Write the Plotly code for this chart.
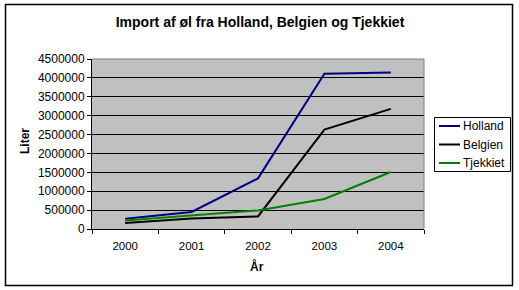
import plotly.graph_objects as go

years = ["2000", "2001", "2002", "2003", "2004"]
holland = [272000, 450000, 1340000, 4110000, 4145000]
belgien = [160000, 280000, 333000, 2630000, 3180000]
tjekkiet = [228000, 360000, 492000, 794000, 1510000]
y_ticks = list(range(0, 4500001, 500000))

series = [("Holland", holland, "#000080"),
          ("Belgien", belgien, "#000000"),
          ("Tjekkiet", tjekkiet, "#008000")]

W, H = 519, 290
L, R, T, B = 92, 424, 59, 229  # plot area in pixels

def px(x):
    return (x - L) / (R - L)

def py(y):
    return (B - y) / (B - T)

FONT = "Liberation Sans, Arial, sans-serif"

fig = go.Figure()
for name, vals, col in series:
    fig.add_trace(go.Scatter(x=years, y=vals, name=name, mode="lines",
                             line=dict(color=col, width=2), showlegend=False))

fig.update_layout(
    width=W, height=H,
    margin=dict(l=L, r=W - R, t=T, b=H - B, pad=0),
    paper_bgcolor="white",
    plot_bgcolor="#C0C0C0",
    font=dict(family=FONT, color="black", size=12),
    title=dict(text="<b>Import af øl fra Holland, Belgien og Tjekkiet</b>",
               x=260 / W, xanchor="center", xref="container",
               y=1 - 22.5 / H, yanchor="middle", yref="container",
               font=dict(size=14, family=FONT)),
    showlegend=False,
)

fig.update_xaxes(
    type="category", showgrid=False, tickson="boundaries",
    ticks="outside", ticklen=4, tickcolor="black", tickwidth=1,
    showline=True, linecolor="black", linewidth=1,
    tickfont=dict(size=11.5, family=FONT), range=[-0.5, 4.5],
    ticklabelstandoff=6,
)
fig.update_yaxes(
    range=[0, 4500000], tickvals=y_ticks, ticktext=[str(v) for v in y_ticks],
    showgrid=True, gridcolor="black", gridwidth=1,
    ticks="outside", ticklen=4, tickcolor="black", tickwidth=1,
    showline=True, linecolor="black", linewidth=1, zeroline=False,
    tickfont=dict(size=12, family=FONT),
)

# plot area top/right border (gray)
fig.add_shape(type="line", xref="paper", yref="paper", x0=0, x1=1, y0=1, y1=1,
              line=dict(color="#808080", width=1))
fig.add_shape(type="line", xref="paper", yref="paper", x0=1, x1=1, y0=0, y1=1,
              line=dict(color="#808080", width=1))
# outer chart border
fig.add_shape(type="rect", xref="paper", yref="paper",
              x0=px(5.5), x1=px(512.5), y0=py(285.5), y1=py(4.5),
              line=dict(color="black", width=1.5), fillcolor="rgba(0,0,0,0)")

# legend box (drawn to match the original's compact legend)
fig.add_shape(type="rect", xref="paper", yref="paper",
              x0=px(434.5), x1=px(510.5), y0=py(171.5), y1=py(117.5),
              line=dict(color="black", width=1), fillcolor="white")
for i, (name, vals, col) in enumerate(series):
    yc = 126 + i * 18.5
    fig.add_shape(type="line", xref="paper", yref="paper",
                  x0=px(439), x1=px(460), y0=py(yc), y1=py(yc),
                  line=dict(color=col, width=2))
    fig.add_annotation(text=name, xref="paper", yref="paper",
                       x=px(461), y=py(yc), showarrow=False,
                       xanchor="left", yanchor="middle",
                       font=dict(size=12, family=FONT))

fig.add_annotation(text="<b>Liter</b>", xref="paper", yref="paper",
                   x=px(25), y=py(141), textangle=-90, showarrow=False,
                   xanchor="center", yanchor="middle", font=dict(size=12, family=FONT))
fig.add_annotation(text="<b>År</b>", xref="paper", yref="paper",
                   x=px(257), y=py(266), showarrow=False,
                   xanchor="center", yanchor="middle", font=dict(size=12, family=FONT))

fig.write_html("out.html")
